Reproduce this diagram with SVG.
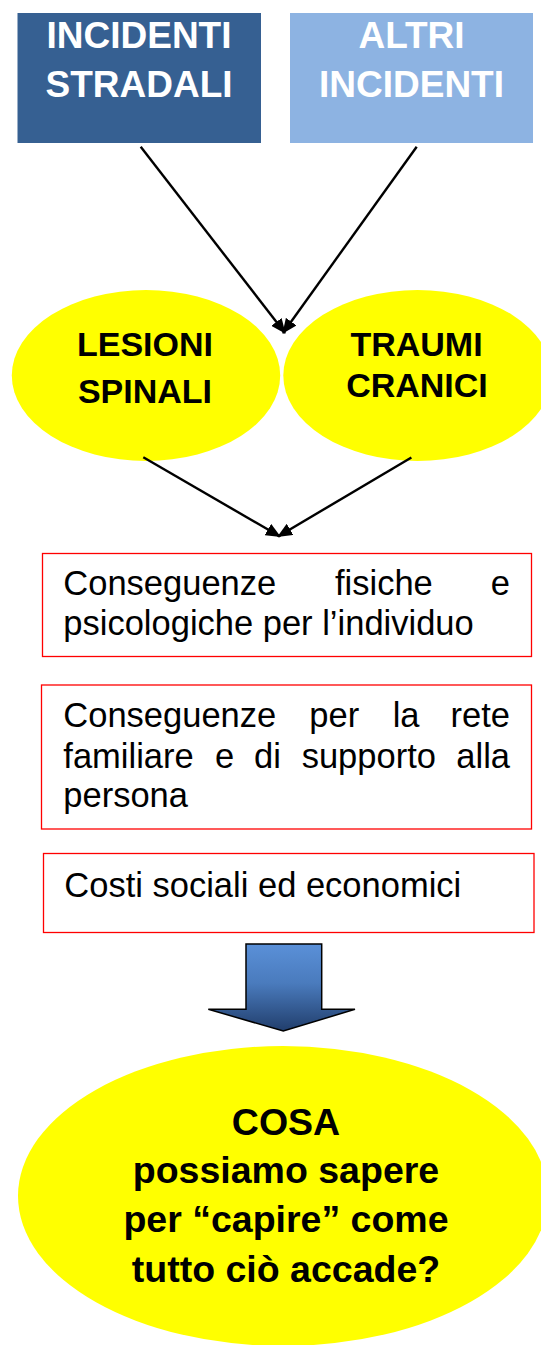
<svg xmlns="http://www.w3.org/2000/svg" width="541" height="1345" viewBox="0 0 541 1345">
  <style>
    .hdr { font-family: "Liberation Sans", Arial, sans-serif; font-weight: bold; font-size: 37px; fill: #ffffff; text-anchor: middle; }
    .oval { font-family: "Liberation Sans", Arial, sans-serif; font-weight: bold; font-size: 34px; fill: #000000; text-anchor: middle; }
    .big { font-family: "Liberation Sans", Arial, sans-serif; font-weight: bold; font-size: 37.5px; fill: #000000; text-anchor: middle; }
    .body { font-family: "Liberation Sans", Arial, sans-serif; font-size: 34.5px; fill: #000000; }
    .end { text-anchor: end; }
    .redbox { fill: #ffffff; stroke: #ff0000; stroke-width: 1.3; }
    .yel { fill: #ffff00; }
    .conn { stroke: #000000; stroke-width: 2.4; fill: none; marker-end: url(#ah); }
  </style>
  <defs>
    <marker id="ah" markerUnits="userSpaceOnUse" markerWidth="15" markerHeight="13" refX="14" refY="6.5" orient="auto">
      <path d="M0,0 L15,6.5 L0,13 z" fill="#000000"/>
    </marker>
    <linearGradient id="blk" x1="0" y1="0" x2="0" y2="1">
      <stop offset="0" stop-color="#5a90d8"/>
      <stop offset="0.45" stop-color="#4a7bbd"/>
      <stop offset="1" stop-color="#213e6c"/>
    </linearGradient>
  </defs>

  <g id="incidenti-stradali">
    <rect x="17.5" y="13" width="243.5" height="130" fill="#366092"/>
    <text class="hdr" x="139" y="48.3">INCIDENTI</text>
    <text class="hdr" x="139" y="96.7">STRADALI</text>
  </g>

  <g id="altri-incidenti">
    <rect x="290" y="13" width="243" height="130" fill="#8db3e2"/>
    <text class="hdr" x="411.5" y="48.3">ALTRI</text>
    <text class="hdr" x="411.5" y="96.7">INCIDENTI</text>
  </g>

  <g id="lesioni-spinali">
    <ellipse class="yel" cx="146" cy="375.5" rx="134.2" ry="85.5"/>
    <text class="oval" x="145" y="356">LESIONI</text>
    <text class="oval" x="145" y="402.5">SPINALI</text>
  </g>

  <g id="traumi-cranici">
    <ellipse class="yel" cx="417.5" cy="375.5" rx="134.2" ry="85.5"/>
    <text class="oval" x="416.5" y="356">TRAUMI</text>
    <text class="oval" x="417" y="396.5">CRANICI</text>
  </g>

  <g id="conseguenze-individuo">
    <rect class="redbox" x="42.5" y="553.5" width="489" height="103"/>
    <text class="body" x="63.3" y="595">Conseguenze</text>
    <text class="body" x="335" y="595">fisiche</text>
    <text class="body end" x="510" y="595">e</text>
    <text class="body" x="63.3" y="635">psicologiche per l’individuo</text>
  </g>

  <g id="conseguenze-rete">
    <rect class="redbox" x="41.5" y="685" width="490" height="144"/>
    <text class="body" x="63.3" y="727.3">Conseguenze</text>
    <text class="body" x="309.3" y="727.3">per</text>
    <text class="body" x="392.7" y="727.3">la</text>
    <text class="body end" x="510" y="727.3">rete</text>
    <text class="body" x="63.3" y="767.5">familiare</text>
    <text class="body" x="215" y="767.5">e</text>
    <text class="body" x="254" y="767.5">di</text>
    <text class="body" x="301.7" y="767.5">supporto</text>
    <text class="body end" x="510" y="767.5">alla</text>
    <text class="body" x="63.3" y="807">persona</text>
  </g>

  <g id="costi">
    <rect class="redbox" x="43.5" y="853.5" width="490.5" height="79"/>
    <text class="body" x="64.3" y="896.7">Costi sociali ed economici</text>
  </g>

  <g id="freccia-blocco">
    <path d="M246,944 L321.7,944 L321.7,1009.3 L355,1009.3 L283.3,1031 L208.3,1009.3 L246,1009.3 Z" fill="url(#blk)" stroke="#000000" stroke-width="1.5" stroke-linejoin="miter"/>
  </g>

  <g id="cosa">
    <ellipse class="yel" cx="283" cy="1196" rx="265" ry="150"/>
    <text class="big" x="286" y="1135">COSA</text>
    <text class="big" x="286" y="1183.3">possiamo sapere</text>
    <text class="big" x="286" y="1231.7">per “capire” come</text>
    <text class="big" x="286" y="1281.7">tutto ciò accade?</text>
  </g>

  <g id="connectors">
    <line class="conn" x1="140.7" y1="146.7" x2="285" y2="333"/>
    <line class="conn" x1="416.7" y1="146.7" x2="283" y2="333"/>
    <line class="conn" x1="143.3" y1="457.3" x2="280" y2="536.5"/>
    <line class="conn" x1="411.4" y1="457.5" x2="278" y2="536.5"/>
  </g>
</svg>
